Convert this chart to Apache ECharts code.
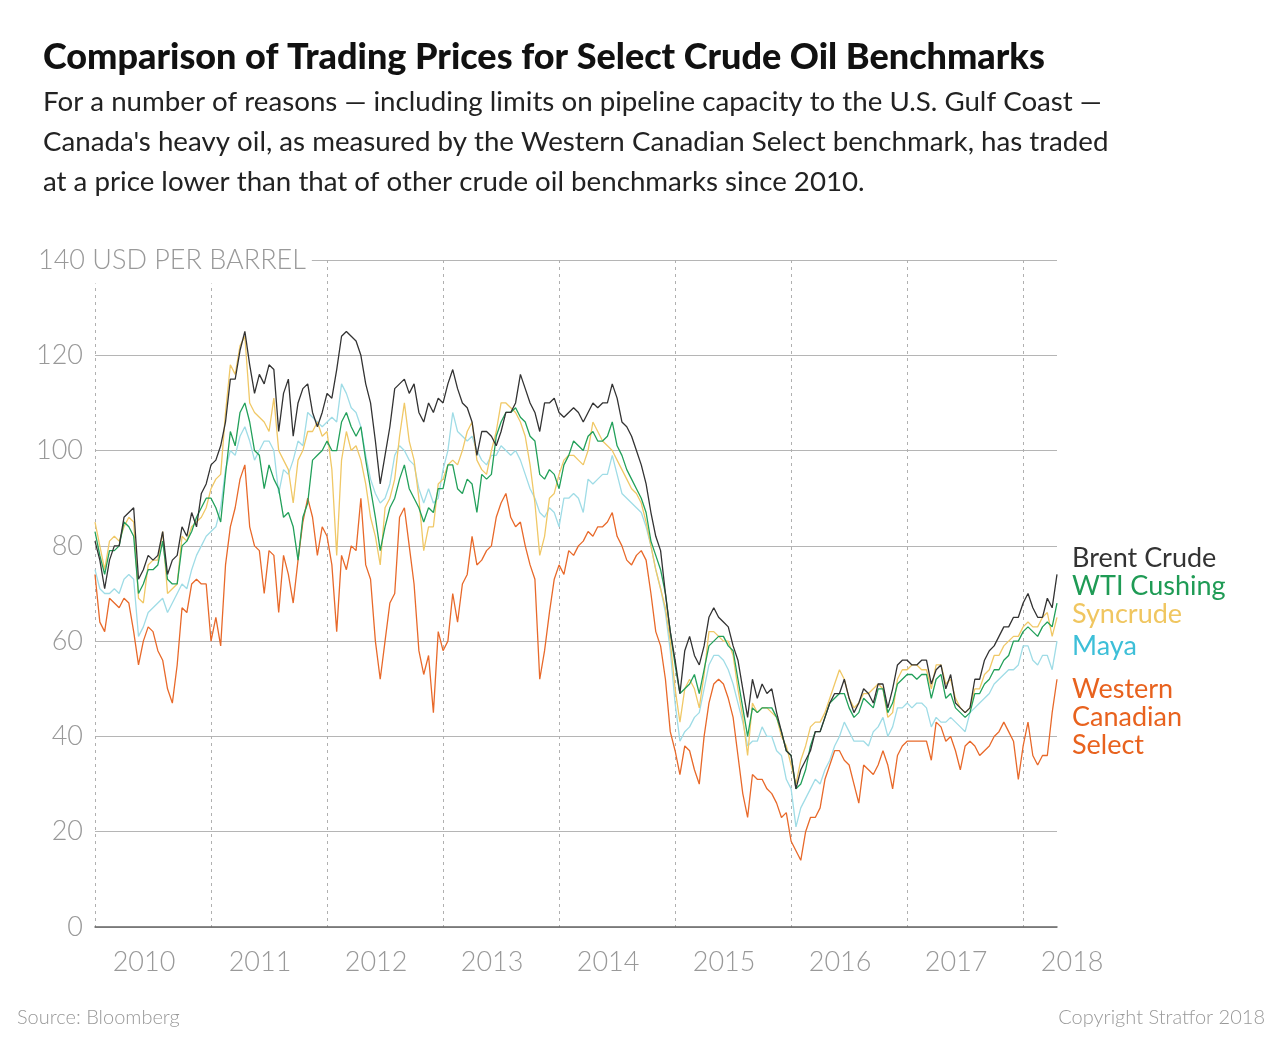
<!DOCTYPE html>
<html>
<head>
<meta charset="utf-8">
<title>Crude Oil Benchmarks</title>
<script src="https://cdn.jsdelivr.net/npm/echarts@6/dist/echarts.min.js"></script>
<style>
  html, body { margin: 0; padding: 0; background: #fff; }
  #chart { width: 1280px; height: 1042px; }
</style>
</head>
<body>
<div id="chart"></div>
<script>
// semi-monthly samples, Jan 2010 .. mid Apr 2018 (USD per barrel)
const brent = [
  81, 77, 71, 77, 80, 80, 86, 87, 88, 73,
  75, 78, 77, 78, 83, 74, 77, 78, 84, 82,
  87, 84, 91, 93, 97, 98, 101, 106, 115, 115,
  121, 125, 118, 112, 116, 114, 118, 117, 104, 112,
  115, 103, 110, 113, 114, 108, 105, 108, 112, 111,
  117, 124, 125, 124, 123, 120, 114, 110, 102, 93,
  99, 105, 113, 114, 115, 112, 114, 108, 106, 110,
  108, 111, 110, 114, 117, 113, 110, 109, 106, 99,
  104, 104, 103, 101, 104, 108, 108, 110, 116, 113,
  110, 108, 104, 110, 110, 111, 108, 107, 108, 109,
  108, 106, 108, 110, 109, 110, 110, 114, 111, 106,
  105, 103, 100, 97, 93, 87, 82, 79, 70, 62,
  56, 49, 58, 61, 57, 55, 59, 65, 67, 65,
  64, 63, 59, 56, 50, 44, 52, 48, 51, 49,
  50, 45, 41, 37, 36, 29, 33, 35, 37, 41,
  41, 44, 47, 49, 49, 52, 48, 45, 47, 50,
  49, 47, 51, 51, 46, 50, 55, 56, 56, 55,
  55, 56, 56, 51, 54, 55, 50, 53, 47, 46,
  45, 46, 52, 52, 56, 58, 59, 61, 63, 63,
  65, 65, 68, 70, 67, 65, 65, 69, 67, 74
];
const wti = [
  83, 78, 74, 79, 79, 80, 85, 84, 82, 70,
  72, 75, 75, 76, 81, 73, 72, 72, 80, 81,
  83, 86, 88, 90, 90, 88, 85, 95, 104, 101,
  108, 110, 106, 100, 99, 92, 97, 94, 92, 86,
  87, 84, 77, 86, 89, 98, 99, 100, 102, 100,
  100, 106, 108, 105, 103, 105, 98, 92, 86, 79,
  84, 88, 90, 94, 97, 92, 90, 88, 85, 88,
  87, 92, 92, 97, 97, 92, 91, 94, 93, 87,
  95, 94, 95, 103, 106, 108, 108, 109, 107, 106,
  103, 102, 95, 94, 96, 95, 92, 97, 99, 102,
  101, 100, 103, 104, 102, 102, 103, 106, 101, 99,
  96, 94, 92, 90, 87, 81, 78, 75, 70, 62,
  55, 49, 50, 51, 53, 49, 54, 59, 60, 61,
  61, 59, 58, 52, 46, 40, 46, 45, 46, 46,
  46, 44, 41, 37, 36, 29, 30, 33, 38, 41,
  41, 44, 47, 48, 49, 49, 46, 44, 45, 48,
  47, 46, 50, 50, 45, 47, 51, 52, 53, 53,
  52, 53, 53, 48, 52, 53, 48, 49, 46, 45,
  44, 45, 49, 49, 51, 52, 54, 54, 56, 57,
  60, 60, 62, 63, 62, 61, 63, 64, 63, 68
];
const syncrude = [
  85, 80, 75, 81, 82, 81, 84, 86, 85, 69,
  68, 76, 77, 77, 83, 70, 71, 72, 82, 81,
  84, 85, 86, 88, 92, 94, 95, 108, 118, 116,
  122, 124, 110, 108, 107, 106, 104, 111, 100, 98,
  96, 89, 98, 100, 104, 104, 106, 103, 104, 96,
  78, 98, 104, 100, 101, 98, 93, 86, 82, 76,
  88, 90, 94, 103, 110, 102, 98, 90, 79, 84,
  84, 93, 94, 97, 98, 97, 100, 104, 106, 98,
  96, 95, 100, 104, 110, 110, 109, 108, 106, 103,
  97, 89, 78, 82, 90, 91, 95, 98, 99, 99,
  98, 97, 100, 106, 104, 102, 101, 100, 98, 96,
  94, 92, 91, 89, 85, 80, 75, 71, 67, 60,
  50, 43, 50, 52, 50, 46, 53, 62, 62, 61,
  60, 60, 57, 50, 44, 36, 47, 45, 46, 46,
  45, 44, 40, 38, 34, 30, 35, 38, 42, 43,
  43, 45, 48, 51, 54, 52, 48, 46, 47, 49,
  49, 50, 51, 50, 44, 45, 52, 54, 54, 55,
  55, 54, 54, 50, 55, 55, 51, 52, 48, 46,
  45, 46, 50, 50, 53, 54, 57, 57, 59, 60,
  61, 61, 63, 64, 63, 63, 65, 66, 61, 65
];
const maya = [
  75, 71, 70, 70, 71, 70, 73, 74, 73, 61,
  63, 66, 67, 68, 69, 66, 68, 70, 72, 71,
  75, 78, 80, 82, 83, 84, 88, 96, 100, 99,
  103, 105, 102, 98, 100, 102, 102, 100, 91, 96,
  95, 98, 102, 101, 108, 107, 106, 105, 106, 107,
  106, 114, 112, 109, 108, 105, 99, 94, 91, 89,
  90, 93, 99, 101, 100, 98, 97, 92, 89, 92,
  89, 90, 96, 100, 108, 104, 103, 102, 103, 100,
  98, 97, 99, 99, 101, 100, 99, 100, 98, 95,
  92, 90, 87, 86, 88, 87, 84, 90, 90, 91,
  90, 87, 94, 93, 94, 95, 95, 99, 95, 91,
  90, 89, 88, 87, 84, 80, 75, 71, 66, 58,
  47, 39, 41, 42, 44, 45, 50, 55, 57, 57,
  56, 54, 51, 47, 43, 38, 39, 39, 42, 40,
  40, 37, 36, 31, 29, 21, 25, 27, 29, 31,
  30, 33, 35, 38, 40, 43, 41, 39, 39, 39,
  38, 41, 42, 44, 40, 42, 46, 46, 47, 46,
  47, 47, 46, 42, 44, 43, 43, 44, 43, 42,
  41, 45, 46, 47, 48, 49, 51, 52, 53, 54,
  54, 55, 59, 59, 56, 55, 57, 57, 54, 60
];
const wcs = [
  74, 64, 62, 69, 68, 67, 69, 68, 62, 55,
  60, 63, 62, 58, 56, 50, 47, 55, 67, 66,
  72, 73, 72, 72, 60, 65, 59, 76, 84, 88,
  94, 97, 84, 80, 79, 70, 79, 78, 66, 78,
  74, 68, 77, 85, 90, 86, 78, 84, 82, 76,
  62, 78, 75, 80, 79, 90, 76, 73, 60, 52,
  60, 68, 70, 86, 88, 80, 72, 58, 53, 57,
  45, 62, 58, 60, 70, 64, 72, 74, 82, 76,
  77, 79, 80, 86, 89, 91, 86, 84, 85, 80,
  76, 73, 52, 58, 66, 73, 76, 74, 79, 78,
  80, 81, 83, 82, 84, 84, 85, 87, 82, 80,
  77, 76, 78, 79, 77, 70, 62, 59, 52, 41,
  37, 32, 38, 37, 33, 30, 40, 47, 51, 52,
  51, 48, 44, 36, 28, 23, 32, 31, 31, 29,
  28, 26, 23, 24, 18, 16, 14, 20, 23, 23,
  25, 31, 34, 37, 37, 35, 34, 30, 26, 34,
  33, 32, 34, 37, 34, 29, 36, 38, 39, 39,
  39, 39, 39, 35, 43, 42, 39, 40, 37, 33,
  38, 39, 38, 36, 37, 38, 40, 41, 43, 41,
  39, 31, 38, 43, 36, 34, 36, 36, 45, 52
];

// sample dates: 1st and 16th of each month
const dates = [];
for (let y = 2010; y <= 2018 && dates.length < brent.length; y++) {
  for (let m = 1; m <= 12 && dates.length < brent.length; m++) {
    const mm = m < 10 ? `0${m}` : `${m}`;
    dates.push(`${y}-${mm}-01`);
    if (dates.length < brent.length) dates.push(`${y}-${mm}-16`);
  }
}

const seriesNames = ['Maya', 'Western Canadian Select', 'Syncrude', 'WTI Cushing', 'Brent Crude'];
const seriesData = [maya, wcs, syncrude, wti, brent];
const lineColors = ['#9fdce6', '#e8692a', '#f0c866', '#22a05a', '#333333'];

const FONT = 'Lato, "Open Sans", sans-serif';

const chart = echarts.init(document.getElementById('chart'));

function label(text, y, color) {
  return {
    type: 'text',
    x: 1072,
    y,
    z: 100,
    style: {
      text,
      fill: color,
      font: `27px ${FONT}`,
      verticalAlign: 'middle',
    },
  };
}

const option = {
  animation: false,
  backgroundColor: '#fff',
  title: {
    text: 'Comparison of Trading Prices for Select Crude Oil Benchmarks',
    subtext: 'For a number of reasons \u2014 including limits on pipeline capacity to the U.S. Gulf Coast \u2014\nCanada\'s heavy oil, as measured by the Western Canadian Select benchmark, has traded\nat a price lower than that of other crude oil benchmarks since 2010.',
    left: 38,
    top: 32,
    itemGap: 5,
    textStyle: {
      fontFamily: FONT,
      fontWeight: 900,
      fontSize: 36,
      lineHeight: 40,
      color: '#111',
    },
    subtextStyle: {
      fontFamily: FONT,
      fontSize: 27.7,
      lineHeight: 40,
      color: '#222',
    },
  },
  grid: {
    left: 95,
    right: 223,
    top: 260,
    bottom: 115,
    containLabel: false,
  },
  xAxis: {
    type: 'category',
    data: dates,
    boundaryGap: false,
    axisLine: { show: true, lineStyle: { color: '#666', width: 1.5 } },
    axisTick: { show: false },
    axisLabel: {
      interval: (i) => i % 24 === 0,
      formatter: (v) => v.slice(0, 4),
      color: '#999',
      fontFamily: FONT,
      fontWeight: 300,
      fontSize: 27,
      margin: 22,
      padding: [0, 0, 0, 98],
    },
    splitLine: {
      show: true,
      interval: (i) => i % 24 === 0,
      lineStyle: { color: '#b0b0b0', type: [3, 4], width: 1 },
    },
  },
  yAxis: {
    type: 'value',
    min: 0,
    max: 140,
    interval: 20,
    axisLine: { show: false },
    axisTick: { show: false },
    axisLabel: {
      formatter: (v) => (v === 140 ? '' : v),
      color: '#999',
      fontFamily: FONT,
      fontWeight: 300,
      fontSize: 27,
      margin: 12,
    },
    splitLine: { lineStyle: { color: '#b5b5b5', width: 1 } },
  },
  series: seriesNames.map((name, i) => ({
    name,
    type: 'line',
    data: seriesData[i],
    showSymbol: false,
    symbol: 'none',
    smooth: false,
    lineStyle: { color: lineColors[i], width: 1.3 },
    emphasis: { disabled: true },
  })),
  graphic: [
    {
      type: 'text',
      x: 38,
      y: 260,
      z: 100,
      style: {
        text: '140 USD PER BARREL',
        fill: '#999',
        font: `300 27px ${FONT}`,
        verticalAlign: 'middle',
        backgroundColor: '#fff',
        padding: [10, 6, 10, 0],
      },
    },
    label('Brent Crude', 558, '#333333'),
    label('WTI Cushing', 586, '#1f9b55'),
    label('Syncrude', 614, '#f0c660'),
    label('Maya', 646, '#3dbfd8'),
    label('Western', 689, '#e8621e'),
    label('Canadian', 717, '#e8621e'),
    label('Select', 745, '#e8621e'),
    {
      type: 'text',
      x: 17,
      y: 1018,
      style: {
        text: 'Source: Bloomberg',
        fill: '#999',
        font: `300 20px ${FONT}`,
        verticalAlign: 'middle',
      },
    },
    {
      type: 'text',
      x: 1265,
      y: 1018,
      style: {
        text: 'Copyright Stratfor 2018',
        fill: '#999',
        font: `300 20px ${FONT}`,
        verticalAlign: 'middle',
        align: 'right',
      },
    },
  ],
};

chart.setOption(option);
</script>
</body>
</html>
